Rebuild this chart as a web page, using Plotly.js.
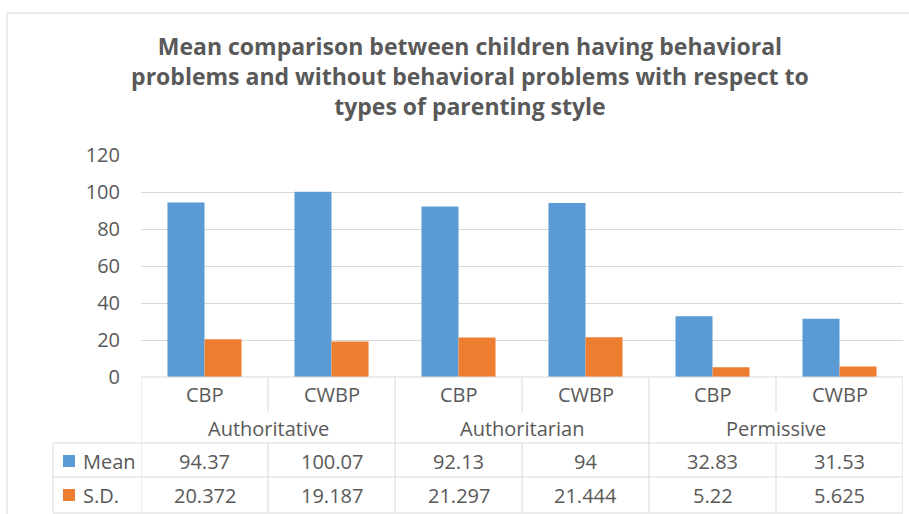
<!DOCTYPE html>
<html>
<head>
<meta charset="utf-8">
<script src="https://cdn.plot.ly/plotly-3.0.1.min.js"></script>
<style>html,body{margin:0;padding:0;background:#fff;}#chart{width:909px;height:514px;}</style>
</head>
<body>
<div id="chart"></div>
<script>
// ---- data ----
const subLabels = ["CBP", "CWBP", "CBP", "CWBP", "CBP", "CWBP"];
const groupLabels = ["Authoritative", "Authoritarian", "Permissive"];
const meanValues = [94.37, 100.07, 92.13, 94, 32.83, 31.53];
const sdValues = [20.372, 19.187, 21.297, 21.444, 5.22, 5.625];
const seriesNames = ["Mean", "S.D."];
const yTicks = [0, 20, 40, 60, 80, 100, 120];
const titleText = "Mean comparison between children having behavioral<br>problems and without behavioral problems with respect to<br>types of parenting style";

// ---- layout helpers ----
const W = 909, H = 514;
const L = 141, R = 6, T = 155, B = 137;
const PW = W - L - R, PH = H - T - B;
const py = p => (H - B - p) / PH;   // pixel y -> paper y
const px = p => (p - L) / PW;       // pixel x -> paper x

const BLUE = "#5B9BD5", ORANGE = "#ED7D31", TXT = "#595959", GRID = "#D9D9D9", LINE = "#D9D9D9";
const FONT = "Open Sans";

const xs = subLabels.map((_, i) => i);

const traces = [
  {type: "bar", name: seriesNames[0], x: xs, y: meanValues, marker: {color: BLUE}, hoverinfo: "y"},
  {type: "bar", name: seriesNames[1], x: xs, y: sdValues, marker: {color: ORANGE}, hoverinfo: "y"}
];

const annotations = [];
const cellFont = {family: FONT, size: 20, color: TXT};
xs.forEach(i => {
  annotations.push({xref: "x", yref: "paper", x: i, y: py(394), text: subLabels[i], showarrow: false, font: cellFont, xanchor: "center", yanchor: "middle"});
  annotations.push({xref: "x", yref: "paper", x: i, y: py(461), text: String(meanValues[i]), showarrow: false, font: cellFont, xanchor: "center", yanchor: "middle"});
  annotations.push({xref: "x", yref: "paper", x: i, y: py(495), text: String(sdValues[i]), showarrow: false, font: cellFont, xanchor: "center", yanchor: "middle"});
});
groupLabels.forEach((g, k) => {
  annotations.push({xref: "x", yref: "paper", x: 2 * k + 0.5, y: py(428), text: g, showarrow: false, font: cellFont, xanchor: "center", yanchor: "middle"});
});
annotations.push({xref: "paper", yref: "paper", x: px(81), y: py(461), text: seriesNames[0], showarrow: false, font: cellFont, xanchor: "left", yanchor: "middle"});
annotations.push({xref: "paper", yref: "paper", x: px(81), y: py(495), text: seriesNames[1], showarrow: false, font: cellFont, xanchor: "left", yanchor: "middle"});

const shapes = [];
const ln = (xref, x0, x1, y0, y1) => ({type: "line", xref: xref, yref: "paper", x0: x0, x1: x1, y0: y0, y1: y1, line: {color: LINE, width: 1}});
// outer chart border
shapes.push({type: "rect", xref: "paper", yref: "paper", x0: px(7), x1: px(915), y0: py(13), y1: py(520), line: {color: "#D9D9D9", width: 1}, fillcolor: "rgba(0,0,0,0)", layer: "below"});
// horizontal table lines
shapes.push(ln("x", -0.5, 5.5, py(377), py(377)));
[443, 477, 513].forEach(p => shapes.push(ln("paper", px(53), 1, py(p), py(p))));
// vertical table lines
[-0.5, 1.5, 3.5, 5.5].forEach(x => shapes.push(ln("x", x, x, py(377), py(513))));
[0.5, 2.5, 4.5].forEach(x => {
  shapes.push(ln("x", x, x, py(377), py(412)));
  shapes.push(ln("x", x, x, py(443), py(513)));
});
shapes.push(ln("paper", px(53), px(53), py(443), py(513)));
// legend keys
shapes.push({type: "rect", xref: "paper", yref: "paper", x0: px(63), x1: px(75), y0: py(455), y1: py(467), line: {width: 0}, fillcolor: BLUE});
shapes.push({type: "rect", xref: "paper", yref: "paper", x0: px(63), x1: px(75), y0: py(489), y1: py(501), line: {width: 0}, fillcolor: ORANGE});

const layout = {
  width: W, height: H,
  margin: {l: L, r: R, t: T, b: B, pad: 0},
  paper_bgcolor: "#ffffff", plot_bgcolor: "#ffffff",
  showlegend: false,
  barmode: "group", bargap: 0.417, bargroupgap: 0,
  title: {
    text: titleText, x: 0.517, xanchor: "center", y: 1 - 55 / H, yanchor: "top", yref: "container",
    font: {family: "Open Sans", size: 23, color: TXT, weight: "bold"}
  },
  xaxis: {type: "linear", range: [-0.5, 5.5], showticklabels: false, showgrid: false, zeroline: false, showline: false, ticks: "", fixedrange: true},
  yaxis: {range: [0, 120], tickvals: yTicks, ticktext: yTicks.map(String), showgrid: true, gridcolor: GRID, gridwidth: 1,
          zeroline: false, showline: false, ticks: "", ticklabelstandoff: 20,
          tickfont: {family: FONT, size: 20, color: TXT}, fixedrange: true},
  annotations: annotations,
  shapes: shapes
};

Plotly.newPlot("chart", traces, layout, {displayModeBar: false, staticPlot: true});
</script>
</body>
</html>
